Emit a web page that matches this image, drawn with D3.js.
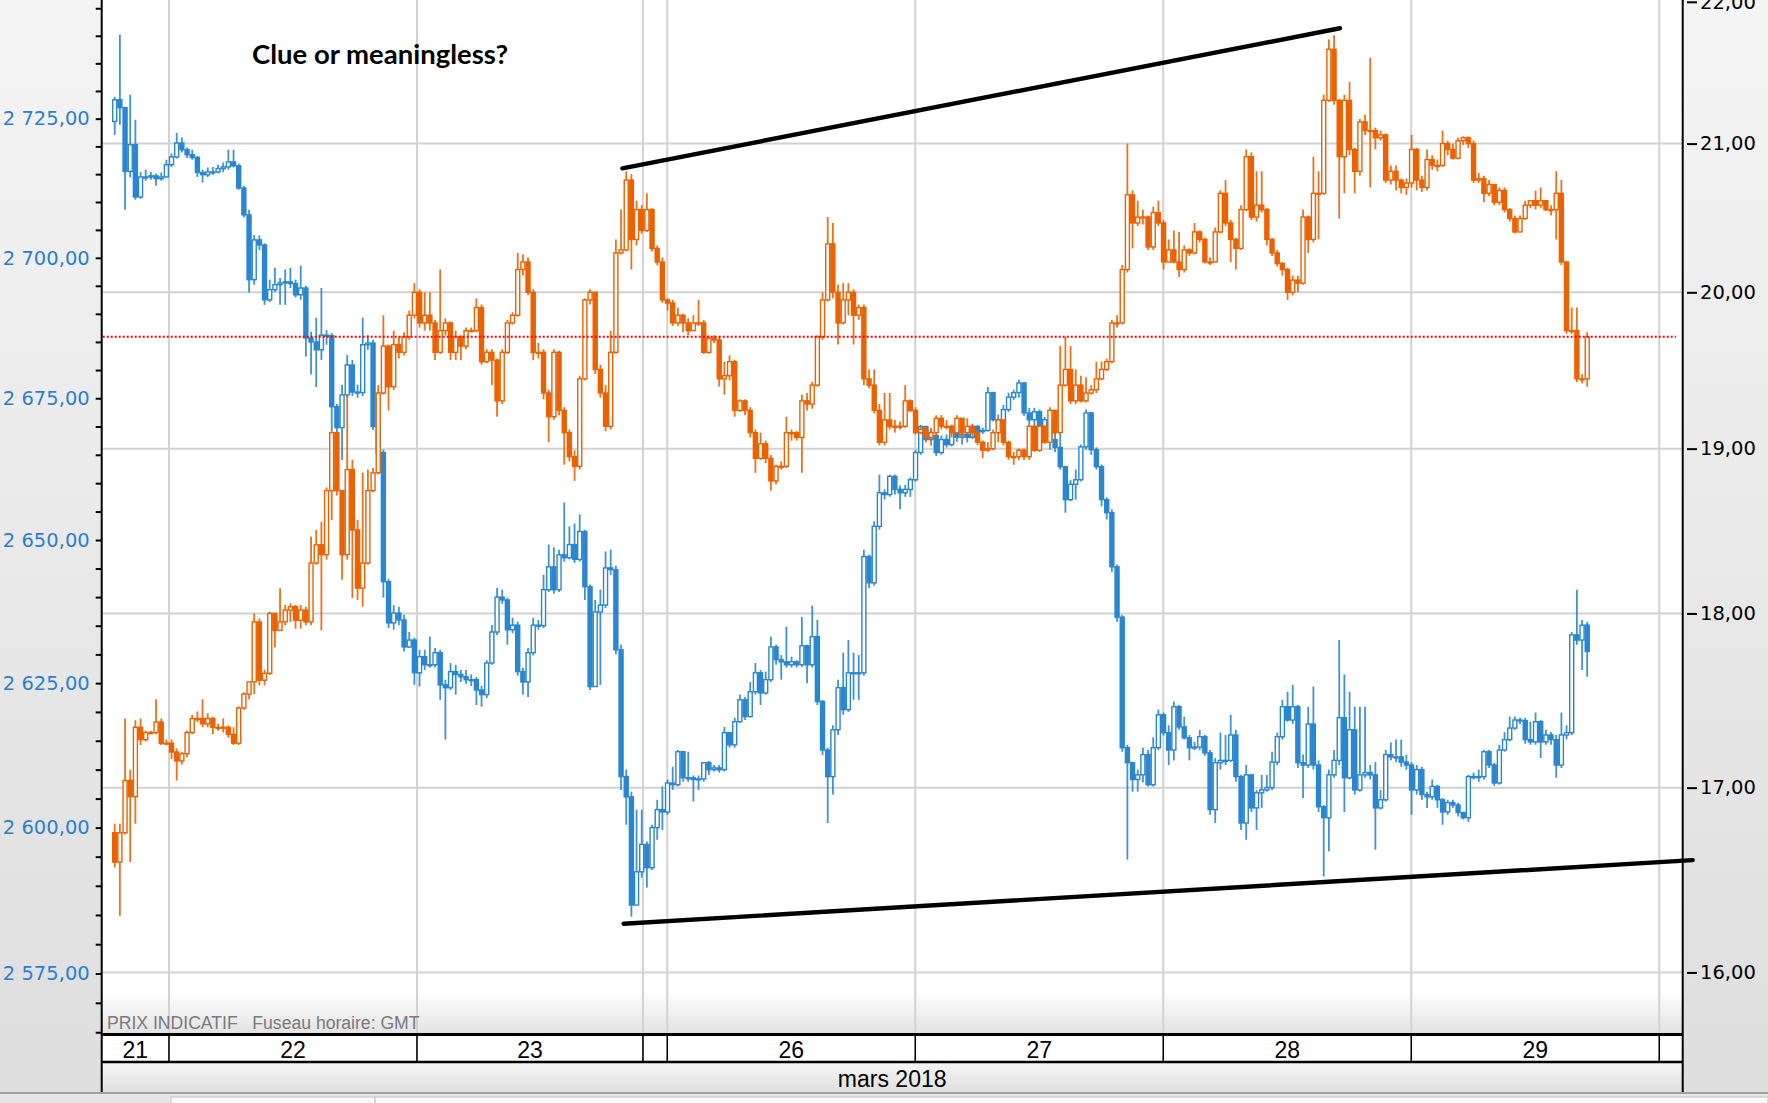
<!DOCTYPE html>
<html><head><meta charset="utf-8">
<script src="https://cdn.jsdelivr.net/npm/d3@7"></script>
<style>
html,body{margin:0;padding:0;background:#ececec;overflow:hidden;}
svg{display:block;}
text.pre{white-space:pre;}
</style></head>
<body>
<svg id="chart" width="1768" height="1103"></svg>
<script>
// ---------------- DATA ----------------
// 30-minute candles; first candle starts at chart hour 18.5 (21 March 18:30 GMT)
const candleStart = 18.5;
const candleStep = 0.5;

// S&P 500 (left axis, blue)
const spxOpen0 = 2724.5;
const spxClose = [
2728.4,2727.0,2715.5,2720.3,2710.9,2714.5,2714.5,2714.7,2714.2,2714.5,
2716.7,2718.1,2720.6,2719.4,2718.5,2718.0,2715.3,2714.9,2715.4,2715.4,
2716.0,2716.3,2717.2,2716.5,2712.5,2707.7,2696.1,2703.2,2702.3,2692.5,
2694.3,2695.2,2695.5,2695.7,2695.4,2693.4,2694.6,2685.7,2685.0,2683.6,
2686.2,2686.1,2673.5,2669.8,2675.6,2680.9,2676.1,2676.0,2684.5,2684.8,
2670.0,2665.4,2642.7,2635.5,2637.2,2636.0,2631.3,2632.5,2626.8,2629.6,
2628.2,2628.2,2630.3,2624.7,2624.2,2627.0,2626.5,2626.1,2625.6,2625.6,
2623.8,2623.0,2628.5,2633.9,2640.0,2639.5,2634.3,2635.1,2627.0,2625.2,
2630.3,2635.1,2635.0,2641.3,2645.3,2641.3,2647.4,2646.9,2649.2,2646.6,
2651.5,2641.8,2624.4,2637.4,2638.6,2645.1,2644.8,2630.8,2608.8,2605.3,
2586.7,2592.4,2597.1,2593.1,2600.0,2603.1,2602.7,2607.7,2607.4,2613.1,
2608.6,2608.6,2608.3,2608.4,2611.2,2610.0,2610.3,2610.0,2616.4,2614.3,
2618.3,2622.1,2619.2,2623.5,2626.8,2623.3,2625.6,2631.3,2629.1,2628.7,
2628.2,2628.7,2628.2,2631.5,2628.2,2633.1,2621.8,2613.4,2608.8,2616.9,
2624.2,2620.4,2626.8,2626.8,2626.8,2647.1,2642.5,2652.4,2658.3,2658.0,
2661.2,2658.9,2658.3,2658.9,2660.6,2665.4,2670.0,2667.7,2668.4,2665.4,
2667.7,2666.8,2669.1,2668.1,2668.6,2668.1,2670.0,2669.1,2669.3,2676.0,
2671.2,2670.7,2673.0,2675.2,2676.0,2677.7,2672.4,2671.2,2672.6,2670.0,
2671.2,2667.7,2666.3,2662.9,2657.1,2659.8,2660.6,2666.4,2672.4,2665.9,
2662.9,2657.1,2654.8,2645.3,2636.5,2613.8,2611.2,2608.3,2609.1,2612.6,
2607.4,2613.8,2619.5,2616.4,2613.4,2620.9,2617.4,2615.5,2613.8,2613.9,
2615.7,2612.9,2603.1,2611.2,2611.6,2611.6,2616.0,2608.8,2600.8,2609.1,
2603.4,2606.0,2606.5,2606.9,2611.3,2615.7,2620.9,2618.6,2620.9,2611.2,
2610.8,2617.9,2610.8,2603.6,2601.7,2609.1,2611.6,2619.0,2608.6,2616.9,
2606.5,2609.1,2609.5,2609.1,2603.4,2604.8,2612.6,2612.2,2612.2,2611.3,
2610.8,2606.5,2610.0,2605.7,2605.3,2607.1,2604.8,2602.7,2604.3,2603.9,
2602.6,2601.7,2608.8,2608.8,2608.8,2613.1,2610.8,2607.7,2613.4,2615.2,
2617.2,2618.6,2618.5,2615.2,2614.8,2618.3,2614.8,2616.0,2615.2,2610.8,
2616.0,2616.4,2633.4,2632.5,2635.1,2630.5];
const spxHigh = [
2728.9,2740.2,2727.0,2729.3,2724.8,2715.4,2715.8,2715.4,2715.1,2715.3,
2717.6,2718.7,2722.4,2721.6,2719.8,2719.4,2718.3,2715.8,2716.2,2716.3,
2716.7,2717.1,2719.4,2719.4,2716.9,2712.9,2708.6,2704.1,2704.0,2702.6,
2696.1,2698.2,2696.4,2697.9,2698.2,2696.1,2698.6,2695.0,2686.8,2689.3,
2694.6,2687.1,2686.6,2674.0,2677.4,2682.7,2681.8,2677.4,2689.3,2686.2,
2685.4,2670.3,2665.9,2643.2,2638.6,2638.3,2636.9,2633.9,2632.9,2630.8,
2630.8,2633.1,2631.1,2630.8,2625.6,2628.5,2628.2,2627.3,2627.3,2626.5,
2626.1,2624.5,2629.0,2635.1,2641.6,2641.3,2639.9,2636.4,2635.7,2627.7,
2631.1,2636.4,2636.0,2643.9,2649.2,2648.7,2648.3,2656.6,2652.4,2652.9,
2654.5,2651.8,2642.2,2639.5,2641.3,2648.0,2648.3,2645.5,2631.7,2610.0,
2606.2,2603.1,2603.1,2597.6,2600.5,2604.8,2607.1,2608.3,2610.5,2613.4,
2613.1,2613.1,2609.0,2609.0,2611.3,2611.5,2610.8,2610.8,2617.4,2616.4,
2619.0,2623.0,2622.6,2625.2,2628.5,2627.3,2627.0,2633.1,2631.7,2629.9,
2634.8,2629.6,2629.0,2636.5,2631.7,2638.5,2636.0,2622.1,2613.8,2617.7,
2625.6,2630.3,2632.5,2630.3,2629.9,2648.3,2647.4,2653.3,2661.5,2658.9,
2661.5,2661.5,2659.6,2659.7,2661.0,2665.9,2670.3,2670.0,2669.4,2668.6,
2668.4,2668.6,2669.8,2669.4,2669.4,2669.4,2670.5,2670.3,2669.8,2677.0,
2676.1,2672.1,2673.8,2676.0,2676.5,2678.3,2677.9,2673.3,2673.3,2673.0,
2671.7,2671.2,2670.0,2668.9,2662.9,2660.6,2662.4,2666.8,2673.0,2672.6,
2666.3,2663.3,2657.5,2655.4,2645.7,2636.9,2614.3,2611.3,2610.0,2613.8,
2613.4,2615.6,2620.4,2619.9,2617.7,2621.8,2621.2,2619.2,2616.0,2614.8,
2616.9,2616.0,2613.4,2612.0,2616.4,2616.0,2619.5,2616.9,2609.1,2610.8,
2609.1,2606.5,2609.1,2609.1,2613.1,2616.4,2622.1,2623.5,2624.7,2621.2,
2612.6,2620.9,2624.4,2611.6,2603.9,2610.0,2613.4,2632.5,2626.5,2623.5,
2620.9,2620.9,2620.9,2610.8,2611.3,2606.5,2613.4,2614.7,2615.2,2615.2,
2612.6,2611.3,2610.8,2610.5,2606.2,2608.3,2607.4,2605.1,2604.8,2604.8,
2604.3,2602.7,2609.1,2609.5,2610.0,2613.4,2613.4,2611.2,2614.3,2616.5,
2619.2,2619.2,2619.0,2619.0,2618.3,2619.9,2618.6,2616.9,2616.5,2616.0,
2619.9,2617.7,2633.9,2641.3,2636.0,2635.7];
const spxLow = [
2722.1,2723.9,2708.6,2714.4,2710.4,2710.6,2713.8,2714.0,2712.9,2713.8,
2714.4,2716.3,2717.8,2718.9,2717.9,2717.6,2714.5,2713.5,2714.5,2714.9,
2715.1,2715.4,2715.8,2716.2,2712.2,2707.2,2693.8,2695.2,2701.4,2691.6,
2692.1,2693.9,2691.6,2691.6,2694.6,2692.9,2692.5,2682.4,2679.2,2677.0,
2681.8,2684.5,2669.4,2668.7,2664.1,2675.1,2675.4,2675.1,2675.4,2683.6,
2669.4,2664.5,2639.9,2634.6,2634.3,2635.1,2630.5,2631.1,2624.7,2624.4,
2627.3,2627.7,2627.7,2622.1,2615.2,2623.8,2623.0,2625.2,2624.9,2624.5,
2621.2,2620.9,2622.4,2628.2,2633.4,2638.8,2631.7,2633.7,2626.3,2623.0,
2622.6,2629.8,2634.3,2634.6,2640.9,2640.6,2640.9,2646.2,2646.6,2646.0,
2646.2,2639.5,2623.8,2624.4,2624.7,2638.1,2643.9,2630.0,2606.5,2600.5,
2584.7,2586.7,2591.4,2589.7,2592.7,2597.9,2599.6,2602.2,2606.5,2607.1,
2607.9,2607.9,2604.5,2606.5,2607.9,2609.1,2609.7,2609.5,2609.7,2613.8,
2613.8,2618.1,2618.6,2619.0,2623.0,2621.2,2623.0,2625.2,2628.2,2625.6,
2627.7,2627.7,2627.7,2627.8,2625.0,2627.7,2621.2,2612.5,2600.8,2605.7,
2616.0,2619.5,2620.0,2622.1,2622.1,2626.3,2641.6,2642.0,2651.8,2657.1,
2657.6,2658.0,2655.4,2657.6,2657.6,2660.3,2665.0,2667.3,2667.3,2664.8,
2665.0,2666.3,2666.5,2667.3,2666.8,2667.2,2667.8,2668.6,2668.7,2669.1,
2670.9,2670.2,2670.5,2672.6,2674.7,2675.1,2671.9,2670.3,2670.0,2669.4,
2669.4,2665.9,2665.5,2662.4,2654.8,2656.8,2657.1,2660.3,2665.9,2665.0,
2662.4,2655.9,2653.6,2644.4,2635.7,2613.1,2594.5,2606.2,2606.2,2607.8,
2607.1,2607.1,2613.4,2615.9,2610.8,2611.6,2616.9,2615.2,2611.6,2613.4,
2613.4,2612.4,2602.2,2600.8,2610.0,2610.8,2611.3,2607.9,2599.6,2597.9,
2602.7,2599.6,2603.4,2606.2,2606.5,2610.8,2615.2,2618.3,2617.9,2610.3,
2605.1,2610.3,2610.0,2602.7,2591.6,2595.9,2608.6,2610.8,2602.7,2608.3,
2605.7,2606.2,2608.6,2608.3,2596.2,2603.1,2604.5,2611.6,2611.3,2610.5,
2610.0,2602.2,2605.7,2604.8,2603.4,2604.8,2603.4,2600.5,2602.2,2603.4,
2601.9,2601.4,2601.0,2608.3,2607.9,2608.3,2610.3,2607.2,2607.4,2613.1,
2614.9,2616.9,2617.9,2614.5,2614.3,2614.3,2612.0,2614.3,2614.3,2608.6,
2610.3,2615.2,2616.0,2631.7,2627.3,2626.1];

// VIX (right axis, orange)
const vixOpen0 = 16.75;
const vixClose = [
16.59,16.75,17.04,16.95,17.34,17.27,17.31,17.31,17.37,17.25,
17.25,17.20,17.15,17.19,17.31,17.39,17.39,17.36,17.39,17.34,
17.34,17.34,17.30,17.25,17.45,17.53,17.60,17.95,17.61,17.65,
18.00,17.90,17.95,18.02,18.04,17.96,18.02,17.95,18.30,18.41,
18.35,18.74,19.10,18.74,18.35,18.87,18.50,18.15,18.30,18.74,
18.85,19.35,19.65,19.39,19.66,19.61,19.71,19.85,20.00,19.80,
19.85,19.80,19.61,19.75,19.80,19.61,19.71,19.65,19.75,19.75,
19.90,19.55,19.61,19.56,19.30,19.61,19.80,19.85,20.15,20.20,
20.00,19.61,19.61,19.35,19.20,19.61,19.24,19.10,18.95,18.89,
19.44,19.95,20.00,19.50,19.35,19.14,19.61,20.26,20.28,20.75,
20.35,20.55,20.41,20.55,20.29,20.20,19.95,19.93,19.80,19.85,
19.80,19.75,19.80,19.80,19.61,19.70,19.69,19.44,19.46,19.55,
19.24,19.30,19.24,19.10,18.94,19.03,18.94,18.80,18.89,18.89,
19.10,19.10,19.07,19.30,19.28,19.40,19.71,19.95,20.32,20.00,
19.80,19.95,20.00,19.85,19.90,19.44,19.40,19.24,19.04,19.18,
19.14,19.14,19.14,19.30,19.24,19.10,19.12,19.07,19.10,19.19,
19.14,19.14,19.10,19.19,19.10,19.14,19.10,19.04,18.99,19.00,
19.10,19.18,19.04,18.95,18.95,18.99,18.95,19.14,18.99,19.14,
19.04,19.24,19.10,19.40,19.50,19.30,19.40,19.30,19.35,19.37,
19.44,19.50,19.55,19.80,19.80,20.15,20.65,20.46,20.50,20.50,
20.30,20.53,20.46,20.20,20.28,20.20,20.15,20.28,20.26,20.40,
20.35,20.20,20.20,20.40,20.66,20.46,20.35,20.29,20.55,20.91,
20.50,20.58,20.55,20.35,20.26,20.19,20.15,20.00,20.08,20.06,
20.50,20.35,20.66,20.66,21.30,21.66,21.30,20.91,21.30,20.96,
20.81,21.15,21.09,21.09,21.04,21.06,20.75,20.81,20.75,20.70,
20.73,20.96,20.75,20.70,20.89,20.85,20.85,21.00,20.96,20.90,
21.02,21.04,21.00,20.75,20.76,20.66,20.72,20.60,20.68,20.55,
20.49,20.40,20.49,20.58,20.61,20.58,20.61,20.55,20.55,20.66,
20.20,19.75,19.75,19.44,19.44,19.71];
const vixHigh = [
16.80,16.80,17.39,17.10,17.38,17.39,17.32,17.32,17.50,17.39,
17.27,17.27,17.22,17.20,17.32,17.41,17.43,17.50,17.42,17.40,
17.36,17.39,17.35,17.34,17.46,17.54,17.60,18.00,17.97,17.67,
18.01,18.00,18.15,18.05,18.06,18.05,18.05,18.04,18.46,18.50,
18.55,18.76,19.12,19.10,18.74,19.33,18.93,18.56,18.85,18.87,
18.88,19.40,19.85,19.66,19.75,19.71,19.74,19.88,20.06,20.02,
20.00,20.00,19.82,20.15,19.83,19.81,19.75,19.72,19.77,19.77,
19.96,19.92,19.63,19.63,19.57,19.63,19.82,19.87,20.26,20.25,
20.23,20.02,19.67,19.63,19.37,19.63,19.62,19.26,19.12,18.99,
19.46,19.96,20.02,20.00,19.53,19.40,19.75,20.35,20.55,20.81,
20.79,20.61,20.58,20.66,20.56,20.31,20.23,19.96,19.95,19.90,
19.86,19.83,19.85,19.95,19.82,19.72,19.72,19.71,19.55,19.59,
19.56,19.31,19.31,19.26,19.12,19.10,19.05,18.96,18.90,18.92,
19.20,19.12,19.11,19.34,19.35,19.42,19.72,20.00,20.50,20.46,
20.05,20.06,20.06,20.02,19.92,19.92,19.50,19.50,19.28,19.35,
19.35,19.18,19.17,19.40,19.31,19.26,19.14,19.14,19.13,19.21,
19.21,19.18,19.15,19.21,19.19,19.19,19.14,19.12,19.05,19.04,
19.12,19.19,19.18,19.05,18.98,19.00,19.00,19.15,19.14,19.16,
19.14,19.26,19.24,19.65,19.71,19.65,19.50,19.46,19.45,19.40,
19.55,19.55,19.57,19.82,19.85,20.18,21.00,20.68,20.61,20.55,
20.51,20.57,20.61,20.48,20.35,20.41,20.40,20.31,20.29,20.46,
20.41,20.36,20.23,20.43,20.68,20.75,20.48,20.36,20.58,20.96,
20.94,20.81,20.81,20.56,20.36,20.28,20.20,20.16,20.11,20.11,
20.55,20.51,20.91,20.81,21.34,21.73,21.76,21.31,21.34,21.43,
20.97,21.17,21.20,21.60,21.11,21.09,21.07,20.85,20.85,20.76,
20.76,21.06,20.97,20.78,20.96,20.92,20.89,21.09,21.02,21.00,
21.04,21.05,21.05,21.02,20.80,20.78,20.75,20.72,20.70,20.70,
20.56,20.51,20.51,20.61,20.61,20.68,20.70,20.61,20.58,20.81,
20.75,20.20,19.90,19.90,19.47,19.74];
const vixLow = [
16.56,16.30,16.74,16.59,16.80,17.24,17.26,17.30,17.30,17.24,
17.24,17.16,17.04,17.13,17.17,17.30,17.37,17.34,17.34,17.30,
17.32,17.31,17.28,17.24,17.24,17.44,17.50,17.53,17.58,17.58,
17.64,17.80,17.90,17.93,17.95,17.91,17.91,17.93,17.93,18.29,
17.90,18.32,18.56,18.71,18.20,18.32,18.09,18.08,18.04,18.29,
18.73,18.84,19.34,19.24,19.37,19.57,19.59,19.69,19.83,19.77,
19.75,19.75,19.56,19.60,19.72,19.56,19.56,19.56,19.63,19.74,
19.74,19.53,19.54,19.40,19.20,19.28,19.60,19.79,19.84,20.11,
19.98,19.56,19.57,19.31,19.04,19.18,19.21,18.90,18.92,18.80,
18.87,19.43,19.92,19.47,19.32,19.11,19.12,19.60,20.25,20.27,
20.15,20.31,20.39,20.40,20.27,20.18,19.93,19.88,19.78,19.78,
19.74,19.72,19.75,19.78,19.60,19.60,19.67,19.39,19.34,19.43,
19.20,19.23,19.21,19.07,18.85,18.93,18.91,18.74,18.78,18.87,
18.88,19.05,19.05,18.85,19.24,19.25,19.39,19.69,19.94,19.96,
19.66,19.79,19.85,19.66,19.82,19.40,19.38,19.22,19.02,19.02,
19.12,19.10,19.12,19.13,19.23,19.09,19.09,19.04,19.02,19.07,
19.12,19.12,19.07,19.09,19.07,19.09,19.07,19.02,18.94,18.98,
18.99,19.04,19.02,18.93,18.90,18.93,18.93,18.93,18.98,18.98,
19.03,19.03,19.08,19.10,19.39,19.28,19.28,19.29,19.29,19.34,
19.35,19.43,19.49,19.54,19.77,19.79,20.13,20.29,20.44,20.45,
20.28,20.28,20.44,20.15,20.20,20.19,20.10,20.13,20.24,20.25,
20.33,20.19,20.18,20.20,20.39,20.44,20.20,20.15,20.28,20.54,
20.48,20.47,20.53,20.31,20.24,20.17,20.11,19.95,19.98,20.00,
20.05,20.26,20.33,20.35,20.65,21.29,21.27,20.49,20.66,20.92,
20.66,20.78,21.06,20.70,20.96,21.02,20.73,20.72,20.68,20.66,
20.65,20.70,20.68,20.67,20.68,20.82,20.81,20.84,20.92,20.89,
20.89,20.99,20.97,20.73,20.73,20.60,20.64,20.58,20.58,20.53,
20.47,20.39,20.40,20.48,20.56,20.55,20.56,20.54,20.51,20.35,
20.18,19.73,19.73,19.42,19.41,19.39];

// x axis: chart hours (hour 0 = 21 March 00:00 GMT, weekend compressed)
const dayLabels = ["21","22","23","","26","27","28","29",""];
const dayBounds = [24, 48, 69.87, 72.22, 96.22, 120.22, 144.22, 168.22];
const xDomain = [17.49, 170.49];
const monthLabel = "mars 2018";

// axis ticks
const leftTicks = [2565,2570,2575,2580,2585,2590,2595,2600,2605,2610,2615,2620,2625,2630,2635,2640,2645,2650,2655,2660,2665,2670,2675,2680,2685,2690,2695,2700,2705,2710,2715,2720,2725,2730,2735,2740,2745];
const leftLabelTicks = [2575,2600,2625,2650,2675,2700,2725];
const rightTicks = [16,17,18,19,20,21,22];
const leftDomain = [2564.7, 2746.5];
const rightDomain = [15.68, 22.013];

// hand-drawn trend lines
const vixTrend = [{t:67.88, v:20.83},{t:137.32, v:21.81}];
const spxTrend = [{t:68.0, v:2583.5},{t:171.45, v:2594.4}];

const titleText = "Clue or meaningless?";
const footText = "PRIX INDICATIF   Fuseau horaire: GMT";

// ---------------- DRAW ----------------
const W = 1768, H = 1103;
const P = {left:101.7, right:1682.7, top:0, bottom:1034};
const svg = d3.select("#chart");
const defs = svg.append("defs");

function vgrad(id, stops){
  const g = defs.append("linearGradient").attr("id",id).attr("x1",0).attr("y1",0).attr("x2",0).attr("y2",1);
  stops.forEach(s=>g.append("stop").attr("offset",s[0]).attr("stop-color",s[1]));
}
vgrad("panelG", [[0,"#f4f4f4"],[1,"#dedede"]]);
vgrad("fadeG", [[0,"#ffffff"],[1,"#e2e2e2"]]);
vgrad("monthG", [[0,"#f6f6f6"],[1,"#e0e0e0"]]);
defs.append("clipPath").attr("id","plotClip").append("rect")
  .attr("x",P.left).attr("y",P.top).attr("width",P.right-P.left).attr("height",P.bottom-P.top);

// background panels
svg.append("rect").attr("width",W).attr("height",H).attr("fill","url(#panelG)");
svg.append("rect").attr("x",P.left).attr("y",P.top).attr("width",P.right-P.left).attr("height",P.bottom-P.top).attr("fill","#fff");
svg.append("rect").attr("x",P.left).attr("y",992).attr("width",P.right-P.left).attr("height",P.bottom-992).attr("fill","url(#fadeG)");

const x = d3.scaleLinear().domain(xDomain).range([P.left, P.right]);
const yL = d3.scaleLog().domain(leftDomain).range([P.bottom, P.top]);
const yR = d3.scaleLog().domain(rightDomain).range([P.bottom, P.top]);

const grid = svg.append("g").attr("stroke","#d2d2d2").attr("stroke-width",2);
grid.selectAll("line.h").data(rightTicks.filter(v=>yR(v)>2)).join("line")
  .attr("x1",P.left).attr("x2",P.right).attr("y1",d=>yR(d)).attr("y2",d=>yR(d));
grid.selectAll("line.v").data(dayBounds).join("line")
  .attr("x1",d=>x(d)).attr("x2",d=>x(d)).attr("y1",P.top).attr("y2",P.bottom);

// footer text inside plot
svg.append("text").attr("class","pre").attr("x",107).attr("y",1029).attr("xml:space","preserve").text(footText)
  .attr("font-family","'Liberation Sans Narrow','Liberation Sans',Arial,sans-serif")
  .attr("font-size",17.6).attr("fill","#7a7a7a");

// candles
const bw = 4.0;
function drawCandles(cls, close, high, low, open0, yS, color){
  const data = close.map((c,i)=>({i, o: i===0?open0:close[i-1], c, h:high[i], l:low[i]}));
  const cx = d => x(candleStart + candleStep*d.i + candleStep/2);
  const g = svg.append("g").attr("class",cls).attr("clip-path","url(#plotClip)");
  g.selectAll("line").data(data).join("line")
    .attr("x1",cx).attr("x2",cx).attr("y1",d=>yS(d.h)).attr("y2",d=>yS(d.l))
    .attr("stroke",color).attr("stroke-width",1.8).attr("stroke-opacity",0.9);
  g.selectAll("rect").data(data).join("rect")
    .attr("x",d=>cx(d)-bw/2)
    .attr("y",d=>Math.min(yS(d.o),yS(d.c)))
    .attr("width",bw)
    .attr("height",d=>Math.max(1,Math.abs(yS(d.o)-yS(d.c))))
    .attr("fill",d=>d.c>=d.o?"#ffffff":color)
    .attr("stroke",color).attr("stroke-width",1.4);
}
drawCandles("spx", spxClose, spxHigh, spxLow, spxOpen0, yL, "#2a86d0");
drawCandles("vix", vixClose, vixHigh, vixLow, vixOpen0, yR, "#ec6100");

// last price line (VIX)
const lastV = vixClose[vixClose.length-1];
svg.append("line").attr("x1",P.left+1).attr("x2",1676).attr("y1",yR(lastV)).attr("y2",yR(lastV))
  .attr("stroke","#ff0000").attr("stroke-width",2).attr("stroke-dasharray","2,2");

// trend lines
svg.append("line").attr("x1",x(vixTrend[0].t)).attr("y1",yR(vixTrend[0].v))
  .attr("x2",x(vixTrend[1].t)).attr("y2",yR(vixTrend[1].v))
  .attr("stroke","#000").attr("stroke-width",4.4).attr("stroke-linecap","round");
svg.append("line").attr("x1",x(spxTrend[0].t)).attr("y1",yL(spxTrend[0].v))
  .attr("x2",x(spxTrend[1].t)).attr("y2",yL(spxTrend[1].v))
  .attr("stroke","#000").attr("stroke-width",4.4).attr("stroke-linecap","round");

// title
svg.append("text").attr("x",252).attr("y",64).text(titleText)
  .attr("font-family","Lato,'Open Sans',sans-serif").attr("font-weight",700)
  .attr("font-size",27.5).attr("fill","#000");

// axes
const loc = d3.formatLocale({decimal:",", thousands:" ", grouping:[3], currency:["",""]});
const fL = loc.format(",.2f"), fR = loc.format(".2f");
const axL = svg.append("g").attr("transform",`translate(${P.left},0)`)
  .call(d3.axisLeft(yL).tickValues(leftTicks).tickSize(6).tickPadding(6)
    .tickFormat(d=>leftLabelTicks.includes(d)?fL(d):""));
axL.select(".domain").remove();
axL.selectAll(".tick line").attr("stroke","#000").attr("stroke-width",2);
axL.selectAll(".tick text").attr("fill","#2b7fcc").attr("font-family","'DejaVu Sans',Verdana,sans-serif").attr("font-size",19.5);

const axR = svg.append("g").attr("transform",`translate(1687,0)`)
  .call(d3.axisRight(yR).tickValues(rightTicks).tickSize(10).tickPadding(3).tickFormat(fR));
axR.select(".domain").remove();
axR.selectAll(".tick line").attr("stroke","#000").attr("stroke-width",2);
axR.selectAll(".tick text").attr("fill","#000").attr("font-family","'DejaVu Sans',Verdana,sans-serif").attr("font-size",19.5);

// date band
const bandTop = P.bottom, bandMid = 1062, bandBot = 1092;
svg.append("rect").attr("x",P.left).attr("y",bandTop).attr("width",P.right-P.left).attr("height",bandMid-bandTop).attr("fill","#fff");
svg.append("rect").attr("x",P.left).attr("y",bandMid).attr("width",P.right-P.left).attr("height",bandBot-bandMid).attr("fill","url(#monthG)");
const edges = [xDomain[0], ...dayBounds, xDomain[1]];
svg.append("g").selectAll("line").data(dayBounds).join("line")
  .attr("x1",d=>x(d)).attr("x2",d=>x(d)).attr("y1",bandTop).attr("y2",bandMid)
  .attr("stroke","#000").attr("stroke-width",1.6);
svg.append("g").selectAll("text").data(dayLabels).join("text")
  .attr("x",(d,i)=>(x(edges[i])+x(edges[i+1]))/2).attr("y",1057.5)
  .attr("text-anchor","middle").text(d=>d)
  .attr("font-family","'Liberation Sans Narrow','Liberation Sans',Arial,sans-serif").attr("font-size",23).attr("fill","#000");
svg.append("text").attr("x",(P.left+P.right)/2).attr("y",1086.5).attr("text-anchor","middle").text(monthLabel)
  .attr("font-family","'Liberation Sans Narrow','Liberation Sans',Arial,sans-serif").attr("font-size",23).attr("fill","#000");
svg.append("line").attr("x1",P.left).attr("x2",P.right).attr("y1",bandTop+0.5).attr("y2",bandTop+0.5).attr("stroke","#000").attr("stroke-width",3);
svg.append("line").attr("x1",P.left).attr("x2",P.right).attr("y1",bandMid).attr("y2",bandMid).attr("stroke","#000").attr("stroke-width",2.5);

// axis lines
svg.append("line").attr("x1",P.left).attr("x2",P.left).attr("y1",0).attr("y2",bandBot).attr("stroke","#000").attr("stroke-width",2);
svg.append("line").attr("x1",P.right).attr("x2",P.right).attr("y1",0).attr("y2",bandBot).attr("stroke","#000").attr("stroke-width",2);

// bottom strip
svg.append("rect").attr("x",0).attr("y",1092).attr("width",W).attr("height",11).attr("fill","#e6e6e6");
svg.append("line").attr("x1",0).attr("x2",W).attr("y1",1093).attr("y2",1093).attr("stroke","#a0a0a0").attr("stroke-width",2);
svg.append("rect").attr("x",171).attr("y",1097).attr("width",W-171).attr("height",8).attr("fill","#f7f7f7").attr("stroke","#c4c4c4").attr("stroke-width",1);
svg.append("line").attr("x1",375).attr("x2",375).attr("y1",1097).attr("y2",1103).attr("stroke","#b0b0b0");
</script>
</body></html>
